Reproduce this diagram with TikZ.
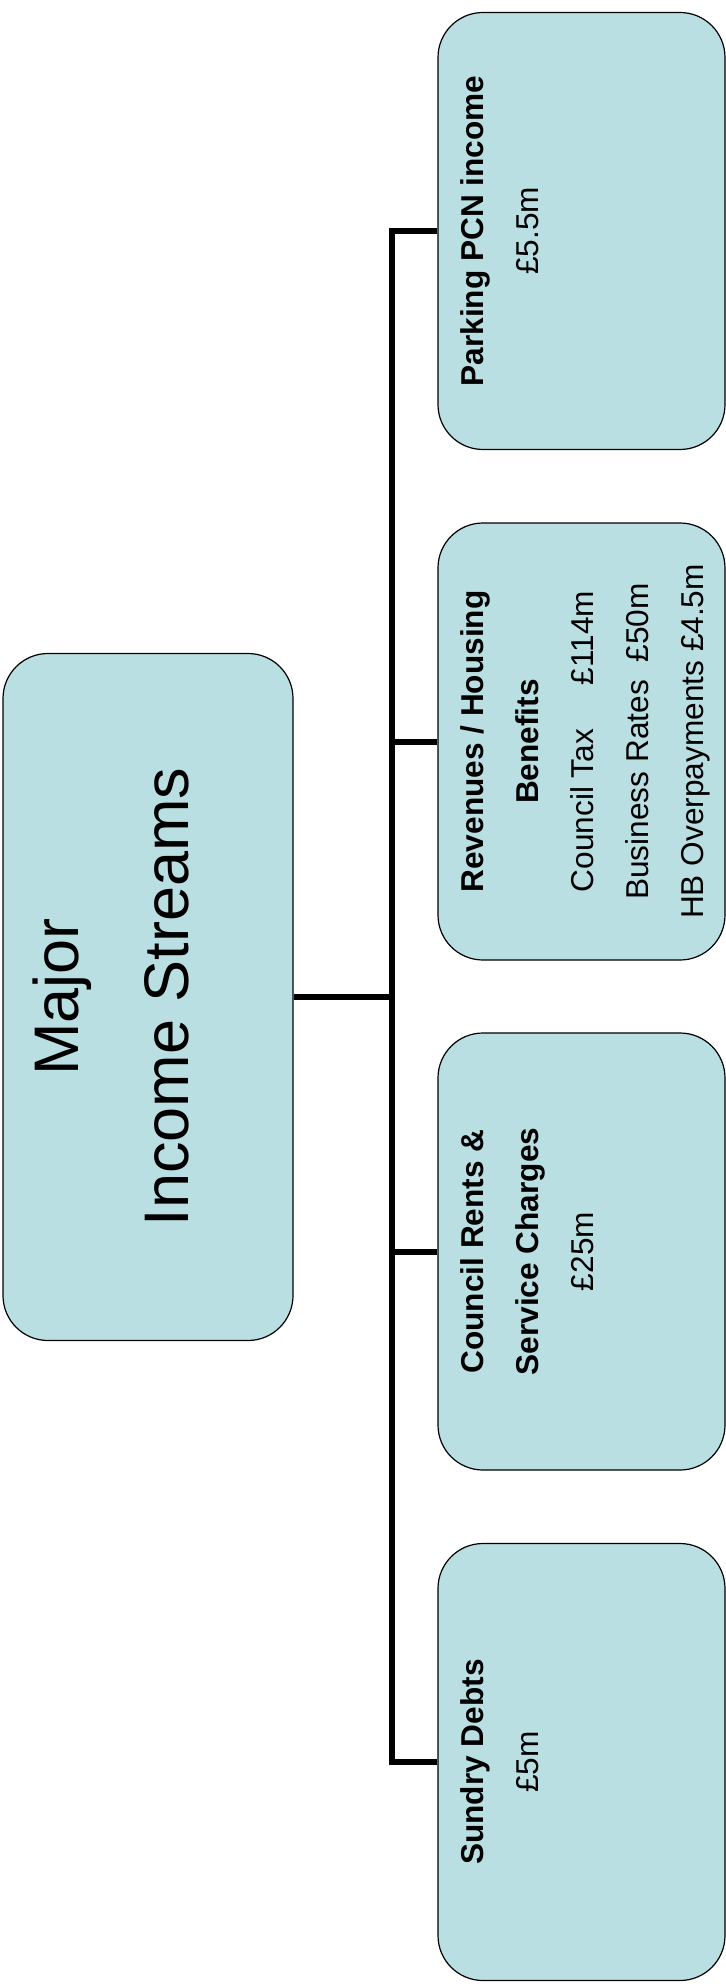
\documentclass[tikz,border=0pt]{standalone}
\usepackage{fontspec}
\setmainfont{Liberation Sans}
\usepackage{xcolor}
\usepackage{tikz}
\definecolor{boxblue}{RGB}{185,223,227}

\begin{document}
\begin{tikzpicture}
	[x=0.5pt,y=0.5pt,
	incbox/.style={draw=black,line width=0.6pt,fill=boxblue,rounded corners=22.5pt,rotate=90,
		minimum width=218.5pt,minimum height=143.5pt,inner sep=0pt},
	boxtxt/.style={rotate=90,anchor=north,align=center,inner sep=0pt,
		font=\fontsize{15.8}{27.5}\selectfont},
	conn/.style={line width=3pt}]
	\useasboundingbox (0,0) rectangle (726,-1984);
	%MAIN BOX
	\node[incbox,minimum width=343.5pt,minimum height=145pt] (major) at (148,-997) {};
	\node[boxtxt,font=\fontsize{31.5}{55}\selectfont] (majortxt) at ([xshift=15pt]major.north) {Major\\Income Streams};
	%INCOME BOXES
	\foreach \name/\y in {parking/231,revenues/741.5,rents/1251.5,sundry/1762}
	\node[incbox] (\name) at (581.5,-\y) {};
	\node[boxtxt] (parkingtxt) at ([xshift=11.2pt]parking.north) {\textbf{Parking PCN income}\\£5.5m};
	\node[boxtxt] (revenuestxt) at ([xshift=11.2pt]revenues.north) {\textbf{Revenues / Housing}\\\textbf{Benefits}\\
		Council Tax\hspace{1.39em}£114m\\Business Rates\hspace{0.56em}£50m\\HB Overpayments £4.5m};
	\node[boxtxt] (rentstxt) at ([xshift=11.2pt]rents.north) {\textbf{Council Rents \&}\\\textbf{Service Charges}\\£25m};
	\node[boxtxt] (sundrytxt) at ([xshift=11.2pt]sundry.north) {\textbf{Sundry Debts}\\£5m};
	%CONNECTORS
	\coordinate (bus) at (392,0);
	\draw[conn] (major.south) -- (major.south -| bus);
	\draw[conn] (sundry.north) -- (sundry.north -| bus) -- (parking.north -| bus) -- (parking.north);
	\foreach \b in {revenues,rents}
	\draw[conn] (\b.north) -- (\b.north -| bus);
\end{tikzpicture}
\end{document}
